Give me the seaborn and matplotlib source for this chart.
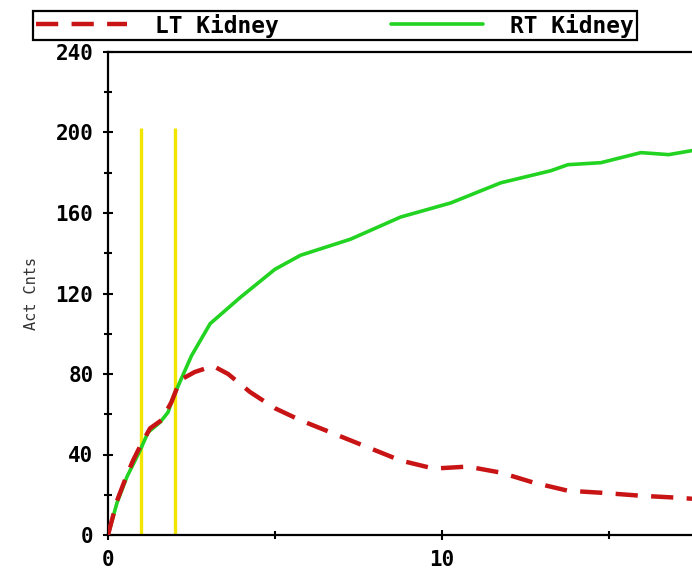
import matplotlib
matplotlib.use("Agg")
import matplotlib.pyplot as plt
import seaborn as sns
import pandas as pd
from matplotlib.ticker import MultipleLocator

# Data
rt_x = [0.0, 0.27, 0.57, 0.75, 0.96, 1.2, 1.56, 1.8, 1.92, 2.1, 2.5, 3.06, 3.96, 5.0, 5.77,
        7.27, 8.77, 10.27, 11.77, 13.27, 13.78, 14.77, 15.97, 16.8, 17.5]
rt_y = [0, 16, 29, 35, 42, 51, 56, 61, 67, 74, 89, 105, 118, 132, 139,
        147, 158, 165, 175, 181, 184, 185, 190, 189, 191]
lt_x = [0.0, 0.27, 0.57, 0.75, 0.96, 1.26, 1.6, 1.9, 2.16, 2.6, 3.15, 3.6, 4.26, 5.0, 5.77,
        7.27, 8.77, 9.76, 10.78, 11.77, 12.76, 13.78, 14.77, 15.97, 17.1, 17.5]
lt_y = [0, 17, 30, 37, 44, 53, 57, 66, 77, 81, 84, 80, 71, 63, 57,
        47, 37, 33, 34, 31, 26, 22, 21, 19.5, 18.5, 18]
marker_x = [1.0, 2.0]
marker_top = 202
y_ticks = [0, 40, 80, 120, 160, 200, 240]
x_ticks = [0, 10]
series_names = ["LT Kidney", "RT Kidney"]

sns.set_theme(style="white")
plt.rcParams['font.family'] = ['DejaVu Sans Mono', 'DejaVu Sans']

fig = plt.figure(figsize=(6.92, 5.70), dpi=100)
ax = fig.add_axes([108/692, 1-535/570, 1-108/692, (535-52)/570])

for mx in marker_x:
    ax.vlines(mx, 0, marker_top, color="#f2e600", lw=2.4, zorder=1)

df_rt = pd.DataFrame({"x": rt_x, "y": rt_y})
df_lt = pd.DataFrame({"x": lt_x, "y": lt_y})
sns.lineplot(data=df_rt, x="x", y="y", ax=ax, color="#22d322", lw=2.6,
             label=series_names[1], zorder=3)
sns.lineplot(data=df_lt, x="x", y="y", ax=ax, color="#c81414", lw=3.2,
             label=series_names[0], zorder=4)
ax.lines[-1].set_linestyle((0, (5, 3)))

ax.set_xlim(0, 17.5)
ax.set_ylim(0, 240)
ax.set_xlabel("")
ax.set_ylabel("Act Cnts", fontsize=11, color="#333333", labelpad=12)
ax.set_yticks(y_ticks)
ax.set_xticks(x_ticks)
ax.yaxis.set_minor_locator(MultipleLocator(20))
ax.xaxis.set_minor_locator(MultipleLocator(5))
ax.tick_params(axis="both", which="major", direction="inout", length=7, width=1.5,
               color="black", labelcolor="black", labelsize=15, left=True, bottom=True)
ax.tick_params(axis="both", which="minor", direction="inout", length=6, width=1.5,
               color="black", left=True, bottom=True)
for lab in ax.get_xticklabels() + ax.get_yticklabels():
    lab.set_fontweight("bold")
ax.tick_params(axis="y", pad=7)
ax.tick_params(axis="x", pad=7)
for s in ["left", "bottom", "top"]:
    ax.spines[s].set_color("black")
    ax.spines[s].set_linewidth(1.6)
ax.spines["right"].set_visible(False)

handles, labels = ax.get_legend_handles_labels()
order = [labels.index(n) for n in series_names]
ax.get_legend().remove()
leg = fig.legend([handles[i] for i in order], [labels[i] for i in order],
                 loc="center left", bbox_to_anchor=(33/692, 1-25.5/570, 604/692, 0),
                 mode="expand", ncol=2, frameon=True, fancybox=False,
                 edgecolor="black", framealpha=1, borderpad=0.12, handlelength=4.0,
                 handletextpad=1.2, labelcolor="black",
                 prop={"family": "DejaVu Sans Mono", "weight": "bold", "size": 16.5},
                 borderaxespad=0)
leg.get_frame().set_linewidth(1.6)

fig.savefig("out.png", dpi=100)
